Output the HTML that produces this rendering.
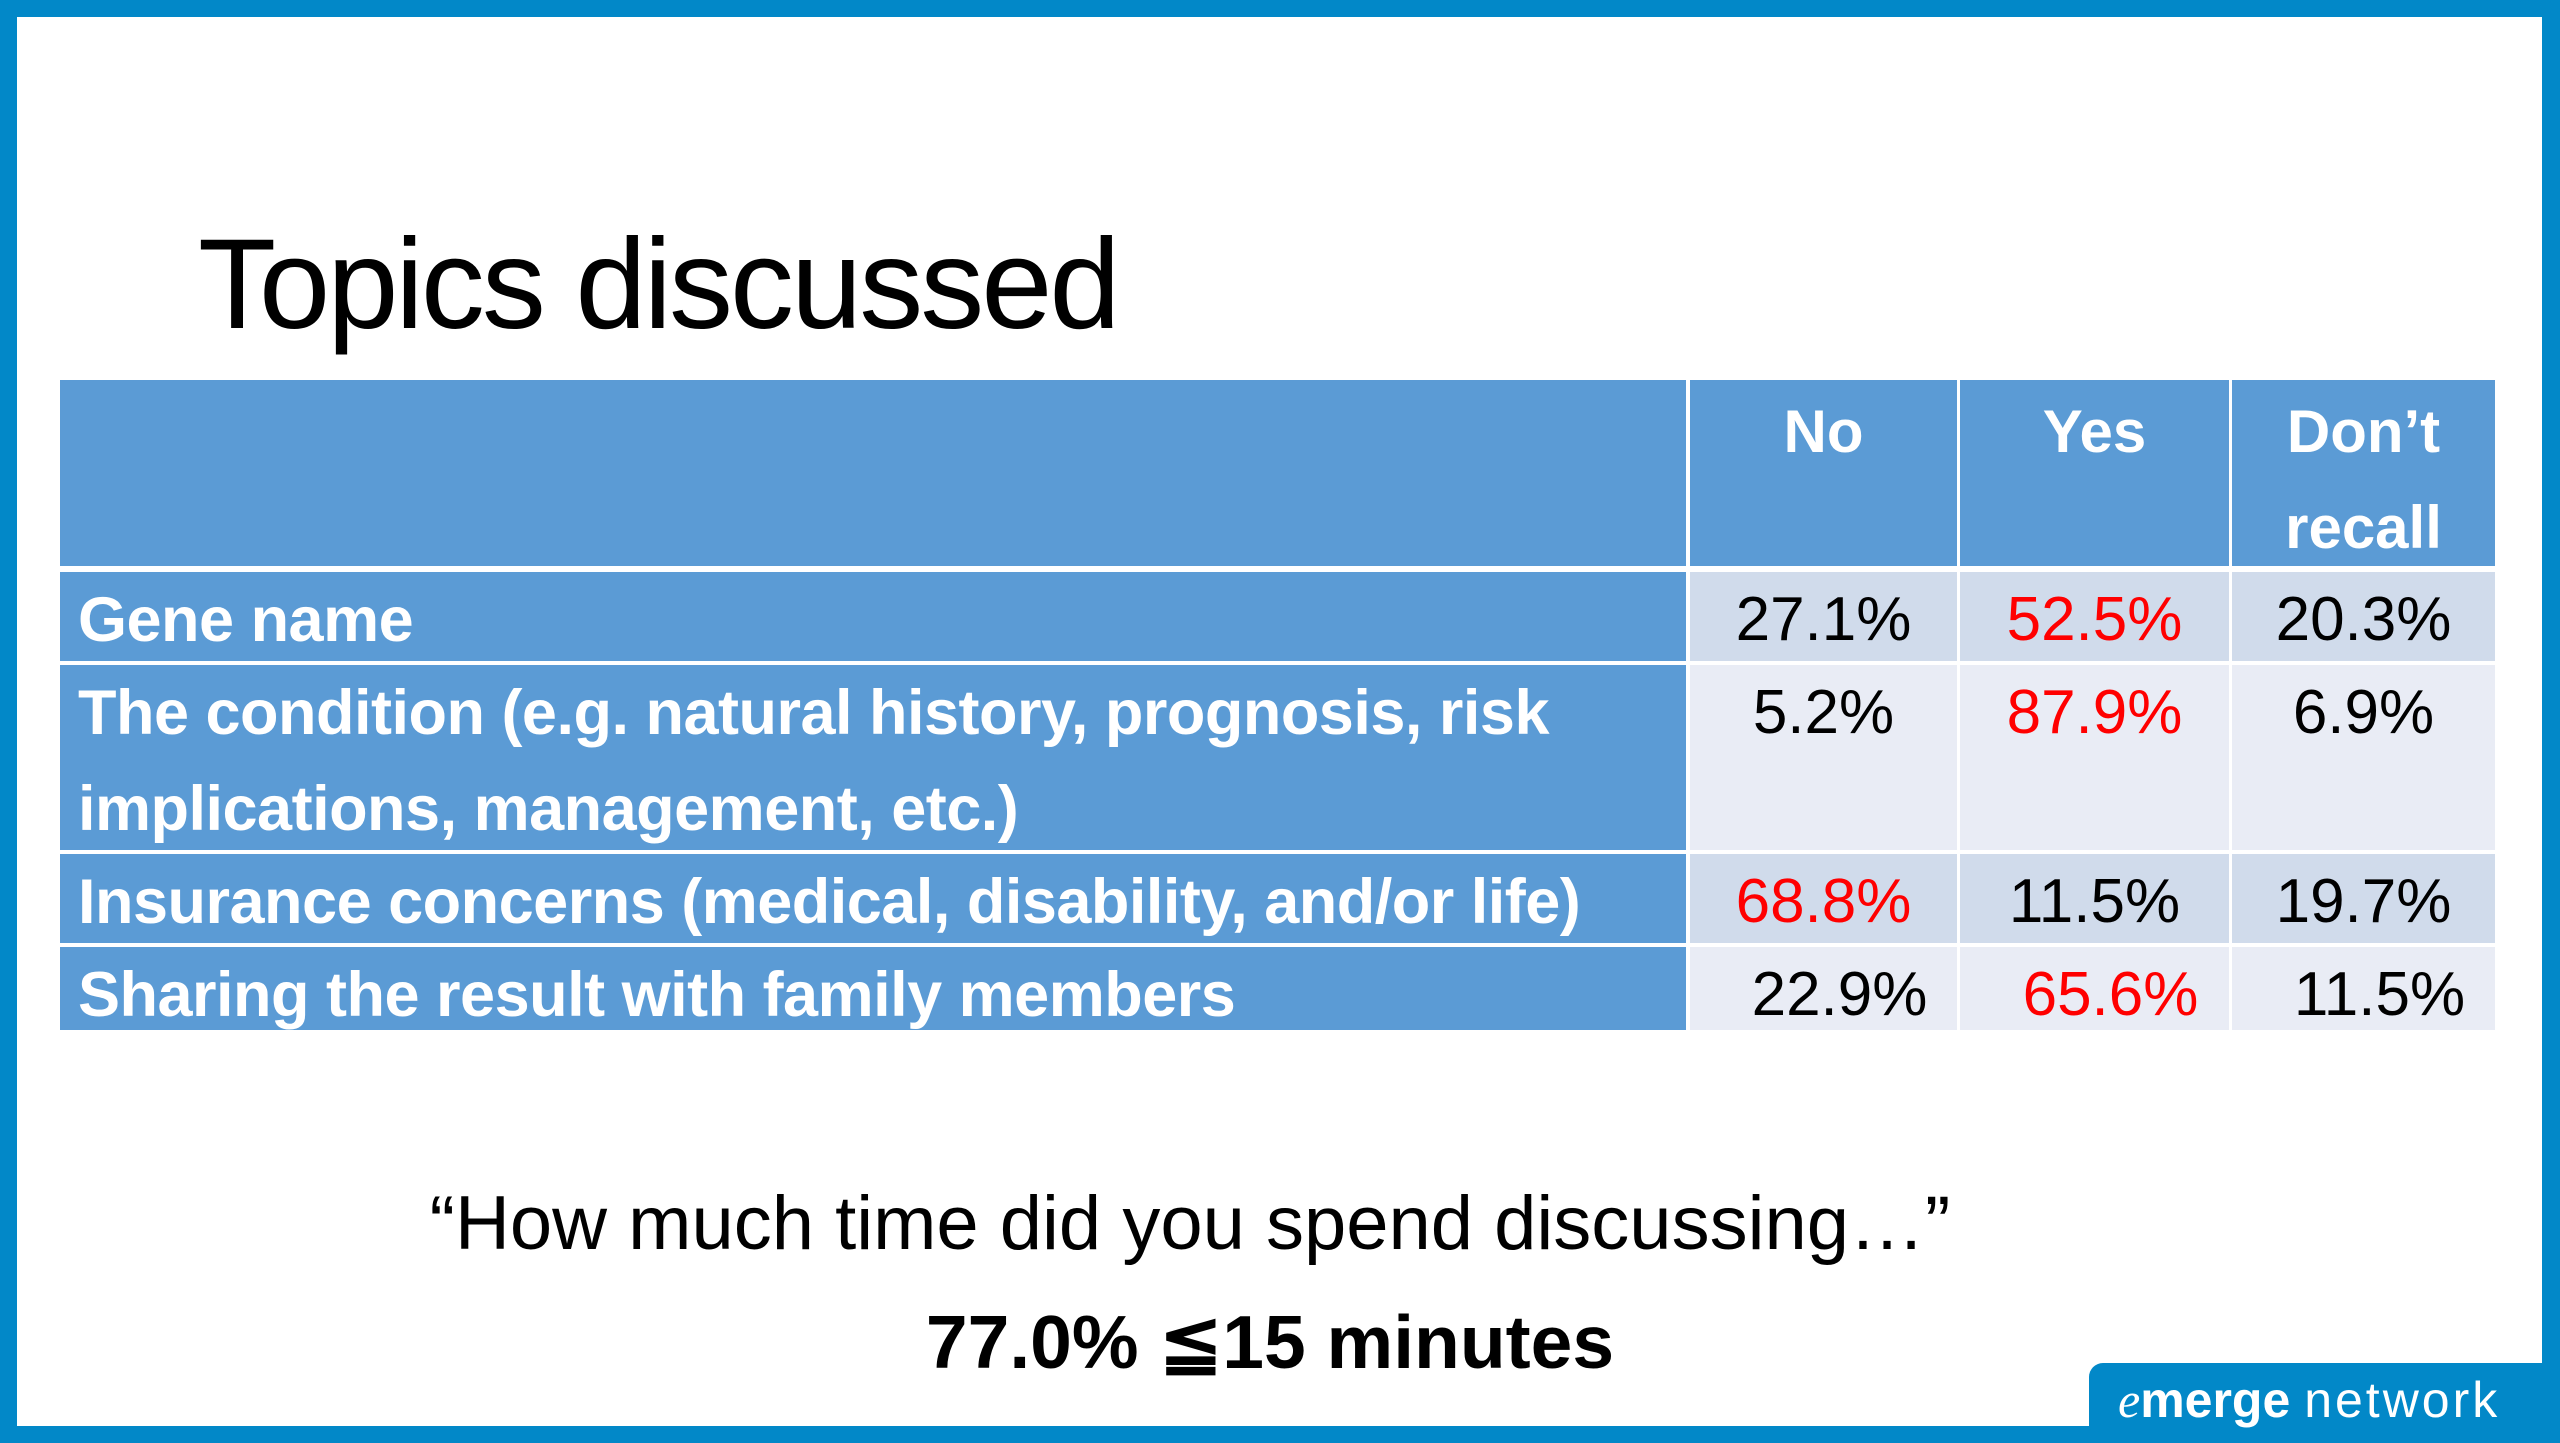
<!DOCTYPE html>
<html><head><meta charset="utf-8"><style>
*{margin:0;padding:0;box-sizing:border-box}
body{width:2560px;height:1440px;position:relative;background:#0288c8;overflow:hidden;font-family:"Liberation Sans",sans-serif}
#slide{position:absolute;left:17px;top:17px;width:2525px;height:1409px;background:#fff}
.abs{position:absolute}
.cell{position:absolute}
.hdr{background:#5b9bd5;color:#fff;font-weight:bold;font-size:60px;text-align:center;line-height:96px}
.lab{background:#5b9bd5;color:#fff;font-weight:bold;font-size:63px;letter-spacing:-0.5px;padding-left:18px;line-height:96px;white-space:nowrap}
.val{font-size:62px;text-align:center;color:#000;line-height:96px}
</style></head><body>
<div id="slide"></div>
<div class="abs" style="left:198px;top:210px;font-size:128px;color:#000;line-height:150px;letter-spacing:-3px">Topics discussed</div>
<div id="table"></div>
<div class="abs" style="left:0;width:2380px;text-align:center;top:1176px;font-size:76px;line-height:96px;color:#000">“How much time did you spend discussing…”</div>
<div class="abs" style="left:0;width:2540px;text-align:center;top:1296px;font-size:75px;font-weight:bold;line-height:92px;color:#000">77.0% ≦15 minutes</div>
<div class="abs" style="left:2089px;top:1363px;width:460px;height:80px;background:#0288c8;border-radius:14px 0 0 0"></div>
<div class="abs" style="left:2118px;top:1368px;font-size:50px;line-height:64px;color:#fff;white-space:nowrap"><i style="font-family:'Liberation Serif',serif;font-weight:normal">e</i><b>merge</b> <span style="letter-spacing:3px;font-weight:normal">network</span></div>
<script>
const categories=["Gene name","The condition (e.g. natural history, prognosis, risk|implications, management, etc.)","Insurance concerns (medical, disability, and/or life)","Sharing the result with family members"];
const columns=["No","Yes","Don’t|recall"];
const noValues=[27.1,5.2,68.8,22.9];
const yesValues=[52.5,87.9,11.5,65.6];
const dontRecallValues=[20.3,6.9,19.7,11.5];
const series=[noValues,yesValues,dontRecallValues];
const t=document.getElementById('table');
const colX=[60,1690,1960,2232,2498];
const rowY=[380,572,665,854,947,1034];
function add(cls,x,y,w,h,html,bg,name,extra){
  const d=document.createElement('div');
  d.className='cell '+cls;
  d.style.left=x+'px';d.style.top=y+'px';d.style.width=w+'px';d.style.height=h+'px';
  if(bg)d.style.background=bg;
  if(extra)d.style.cssText+=extra;
  d.innerHTML=html;
  
  
  t.appendChild(d);return d;
}
add('hdr',colX[0],rowY[0],colX[1]-colX[0]-4,rowY[1]-rowY[0]-6,'','', 'header-blank');
columns.forEach((c,i)=>{
  add('hdr',colX[i+1],rowY[0],colX[i+2]-colX[i+1]-3,rowY[1]-rowY[0]-6,c.split('|').join('<br>'),'','header-'+i,'padding-top:4px');
});
categories.forEach((c,r)=>{
  const y=rowY[r+1],h=rowY[r+2]-y-4;
  add('lab',colX[0],y,colX[1]-colX[0]-4,h,c.split('|').join('<br>'),'','row-label-'+r,'padding-top:0px');
  const bg=r%2===0?'#d0dbeb':'#e9ecf5';
  series.forEach((s,i)=>{
    const v=s[r];
    const max=Math.max(noValues[r],yesValues[r],dontRecallValues[r]);
    const off=r===3?'padding-left:32px;':'';
    add('val',colX[i+1],y,colX[i+2]-colX[i+1]-3,h,v.toFixed(1)+'%',bg,'value-r'+r+'-c'+i,off+'color:'+(v===max?'#ff0000':'#000'));
  });
});
</script>
</body></html>
